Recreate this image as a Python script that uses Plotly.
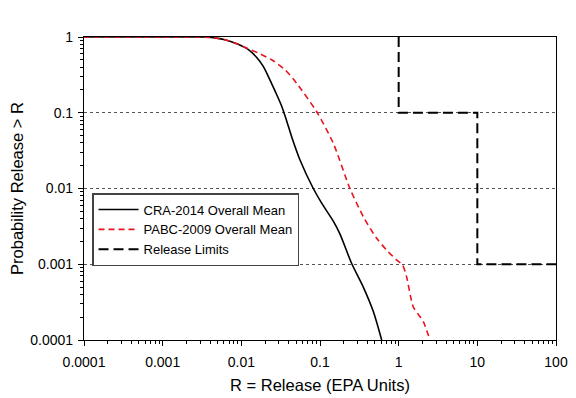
import plotly.graph_objects as go

# Data
cra_x = [0.0001, 0.001, 0.003, 0.0044, 0.0062, 0.0091, 0.0123, 0.0157, 0.019, 0.022,
         0.0268, 0.0325, 0.0377, 0.0437, 0.0557, 0.0822, 0.105, 0.1476, 0.1795, 0.252,
         0.355, 0.475, 0.608]
cra_y = [1, 1, 0.998, 0.98, 0.92, 0.80, 0.68, 0.537, 0.41, 0.303,
         0.194, 0.123, 0.078, 0.048, 0.0238, 0.01, 0.0064, 0.0037, 0.0025, 0.00103,
         0.0005, 0.00024, 0.0001]

pabc_x = [0.0001, 0.001, 0.003, 0.0044, 0.0062, 0.0091, 0.0111, 0.0164, 0.0243, 0.0359,
          0.0505, 0.0908, 0.1476, 0.24, 0.355, 0.525, 0.703, 0.94, 1.12, 1.26,
          1.53, 1.87, 2.06, 2.5]
pabc_y = [1, 1, 0.998, 0.98, 0.92, 0.80, 0.73, 0.615, 0.50, 0.37,
          0.245, 0.103, 0.0395, 0.01, 0.00425, 0.0022, 0.00154, 0.00114, 0.00098, 0.000686,
          0.000275, 0.000203, 0.000175, 0.0001]

limit_x = [1, 1, 10, 10, 100]
limit_y = [1, 0.1, 0.1, 0.001, 0.001]

x_tickvals = [0.0001, 0.001, 0.01, 0.1, 1, 10, 100]
x_ticktext = ["0.0001", "0.001", "0.01", "0.1", "1", "10", "100"]
y_tickvals = [0.0001, 0.001, 0.01, 0.1, 1]
y_ticktext = ["0.0001", "0.001", "0.01", "0.1", "1"]

font_family = "Liberation Sans, Arial, sans-serif"

fig = go.Figure()
fig.add_trace(go.Scatter(
    x=cra_x, y=cra_y, mode="lines", name="CRA-2014 Overall Mean",
    line=dict(color="black", width=1.6, shape="spline", smoothing=0.8),
))
fig.add_trace(go.Scatter(
    x=pabc_x, y=pabc_y, mode="lines", name="PABC-2009 Overall Mean",
    line=dict(color="#e8141e", width=1.6, dash="6px,4px", shape="spline", smoothing=0.7),
))
fig.add_trace(go.Scatter(
    x=limit_x, y=limit_y, mode="lines", name="Release Limits",
    line=dict(color="black", width=2, dash="10px,5px"),
))

# page body has an 8px margin, so the figure is sized/offset to compensate
fig.update_layout(
    width=568, height=390,
    margin=dict(l=76, r=20, t=29, b=58, autoexpand=False),
    paper_bgcolor="white", plot_bgcolor="white",
    font=dict(family=font_family, size=14, color="black"),
    showlegend=True,
    legend=dict(
        x=0.017, y=0.485, xanchor="left", yanchor="top",
        bgcolor="white", bordercolor="#444", borderwidth=1.5,
        font=dict(size=13, color="black"),
        tracegroupgap=0, itemwidth=40,
    ),
)

fig.update_xaxes(
    type="log", range=[-4, 2], automargin=False,
    tickvals=x_tickvals, ticktext=x_ticktext,
    ticks="outside", ticklen=5, tickwidth=1, tickcolor="black",
    ticklabelstandoff=4,
    showline=True, linecolor="black", linewidth=1.2, mirror=True,
    showgrid=False, zeroline=False,
    minor=dict(ticks="outside", ticklen=3, tickcolor="black", dtick="D1", showgrid=False),
    title=dict(text="R = Release (EPA Units)", font=dict(size=16.5), standoff=10),
)
fig.update_yaxes(
    type="log", range=[-4, 0], automargin=False,
    tickvals=y_tickvals, ticktext=y_ticktext,
    ticks="outside", ticklen=5, tickwidth=1, tickcolor="black",
    ticklabelstandoff=2,
    showline=True, linecolor="black", linewidth=1.2, mirror=True,
    showgrid=True, gridcolor="#555", gridwidth=1, griddash="dot", zeroline=False,
    minor=dict(ticks="outside", ticklen=3, tickcolor="black", dtick="D1", showgrid=False),
    title=dict(text="Probability Release > R", font=dict(size=16.5), standoff=4),
)

fig.write_html("out.html")
